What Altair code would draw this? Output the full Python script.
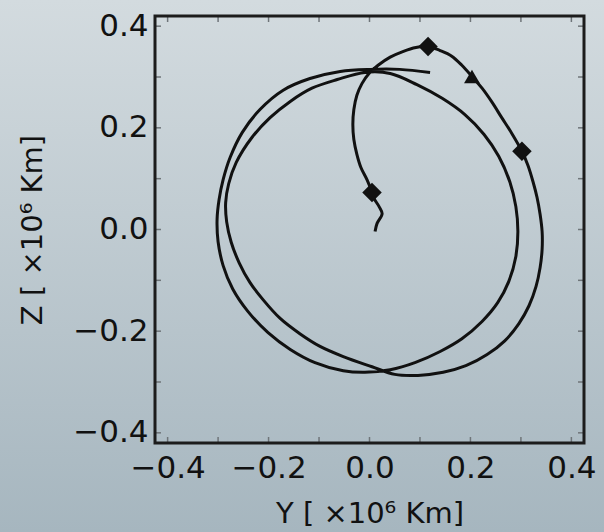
import altair as alt
import pandas as pd

# Trajectory in the Y-Z plane (units of 10^6 km), in time order
traj_y = [
    0.011, 0.015, 0.025, 0.019, 0.009, 0.005, -0.005, -0.017, -0.025, -0.031,
    -0.033, -0.031, -0.025, -0.015, -0.001, 0.017, 0.041, 0.066, 0.092, 0.116,
    0.140, 0.163, 0.183, 0.203, 0.223, 0.243, 0.262, 0.282, 0.302,
    0.314, 0.324, 0.332, 0.338, 0.342, 0.342, 0.338, 0.330, 0.316, 0.296,
    0.268, 0.233, 0.191, 0.146, 0.096, 0.050,
    0.005, -0.052, -0.098, -0.138, -0.177, -0.211, -0.237, -0.258, -0.274, -0.283,
    -0.285, -0.279, -0.264, -0.233, -0.197, -0.157, -0.114, -0.064, -0.009, 0.041,
    0.094, 0.144, 0.189, 0.227, 0.256, 0.278, 0.290, 0.294, 0.290, 0.276,
    0.254, 0.223, 0.183, 0.140, 0.090, 0.041, -0.009,
    -0.052, -0.108, -0.157, -0.201, -0.241, -0.271, -0.290, -0.300, -0.302, -0.298,
    -0.290, -0.276, -0.252, -0.217, -0.171, -0.118, -0.058, 0.001, 0.060, 0.120,
]
traj_z = [
    -0.004, 0.012, 0.031, 0.045, 0.061, 0.073, 0.098, 0.122, 0.148, 0.177,
    0.207, 0.236, 0.264, 0.287, 0.307, 0.323, 0.339, 0.350, 0.358, 0.360,
    0.352, 0.341, 0.323, 0.301, 0.278, 0.250, 0.220, 0.189, 0.154,
    0.126, 0.094, 0.063, 0.030, -0.004, -0.039, -0.075, -0.112, -0.150, -0.185,
    -0.219, -0.246, -0.268, -0.281, -0.287, -0.285,
    -0.270, -0.250, -0.230, -0.205, -0.175, -0.138, -0.104, -0.066, -0.025, 0.015,
    0.053, 0.090, 0.132, 0.181, 0.220, 0.252, 0.278, 0.295, 0.309, 0.307,
    0.285, 0.258, 0.226, 0.187, 0.144, 0.094, 0.045, -0.004, -0.053, -0.102,
    -0.144, -0.181, -0.215, -0.240, -0.262, -0.276, -0.281,
    -0.278, -0.262, -0.236, -0.203, -0.161, -0.117, -0.071, -0.024, 0.020, 0.059,
    0.098, 0.142, 0.191, 0.236, 0.274, 0.297, 0.311, 0.315, 0.315, 0.309,
]

# Event markers along the path
diamond_y = [0.005, 0.116, 0.302]
diamond_z = [0.073, 0.360, 0.154]
triangle_y = [0.203]
triangle_z = [0.301]

# Axis ticks and labels
minor_ticks = [-0.4, -0.3, -0.2, -0.1, 0.0, 0.1, 0.2, 0.3, 0.4]
major_ticks = [-0.4, -0.2, 0.0, 0.2, 0.4]

W, H = 429, 427
PAD = {"left": 155, "top": 16, "right": 20, "bottom": 89}
INK = "#111111"
FONT = "DejaVu Sans"

xs = alt.Scale(domain=[-0.425, 0.425], nice=False, zero=False)
ys = alt.Scale(domain=[-0.42, 0.42], nice=False, zero=False)
x_axis = alt.Axis(values=major_ticks, format=".1f", labelPadding=10, zindex=2,
                  title="Y [ ×10⁶ Km]", titlePadding=16)
y_axis = alt.Axis(values=major_ticks, format=".1f", labelPadding=7, zindex=2,
                  title="Z [ ×10⁶ Km]", titlePadding=25)


def xenc(field):
    return alt.X(field, type="quantitative", scale=xs, axis=x_axis)


def yenc(field):
    return alt.Y(field, type="quantitative", scale=ys, axis=y_axis)


path = pd.DataFrame({"i": range(len(traj_y)), "Y": traj_y, "Z": traj_z})
diamonds = pd.DataFrame({"Y": diamond_y, "Z": diamond_z})
triangles = pd.DataFrame({"Y": triangle_y, "Z": triangle_z})
ticks = pd.DataFrame({"t": minor_ticks})
one = pd.DataFrame({"k": [0]})

# Soft vertical gradient behind the whole figure
backdrop = alt.Chart(one).mark_rect(
    clip=False,
    color=alt.Gradient(
        gradient="linear",
        stops=[alt.GradientStop(color="#d3dbdf", offset=0),
               alt.GradientStop(color="#a6b6bf", offset=1)],
        x1=0, x2=0, y1=0, y2=1,
    ),
).encode(
    x=alt.value(-PAD["left"]), x2=alt.value(W + PAD["right"]),
    y=alt.value(-PAD["top"]), y2=alt.value(H + PAD["bottom"]),
)

orbit = alt.Chart(path).mark_line(
    color=INK, strokeWidth=3, interpolate="catmull-rom"
).encode(x=xenc("Y"), y=yenc("Z"), order="i:Q")

diamond_pts = alt.Chart(diamonds).mark_point(
    shape="diamond", filled=True, size=380, color=INK, opacity=1
).encode(x=xenc("Y"), y=yenc("Z"))

triangle_pts = alt.Chart(triangles).mark_point(
    shape="triangle-up", filled=True, size=250, color=INK, opacity=1
).encode(x=xenc("Y"), y=yenc("Z"))

# Inward ticks on all four sides
TL = 6
tick_style = dict(color="#6f7579", strokeWidth=1.5)
ticks_bottom = alt.Chart(ticks).mark_rule(**tick_style).encode(
    x=xenc("t"), y=alt.value(H - TL), y2=alt.value(H))
ticks_top = alt.Chart(ticks).mark_rule(**tick_style).encode(
    x=xenc("t"), y=alt.value(0), y2=alt.value(TL))
ticks_left = alt.Chart(ticks).mark_rule(**tick_style).encode(
    y=yenc("t"), x=alt.value(0), x2=alt.value(TL))
ticks_right = alt.Chart(ticks).mark_rule(**tick_style).encode(
    y=yenc("t"), x=alt.value(W - TL), x2=alt.value(W))

frame = alt.Chart(one).mark_rect(
    fillOpacity=0, stroke="#1c1c1c", strokeWidth=3, clip=False
).encode(x=alt.value(0), x2=alt.value(W), y=alt.value(0), y2=alt.value(H))

chart = alt.layer(
    backdrop, ticks_bottom, ticks_top, ticks_left, ticks_right,
    orbit, diamond_pts, triangle_pts, frame,
).properties(
    width=W, height=H,
    padding=PAD,
    autosize=alt.AutoSizeParams(type="none"),
    background="#bcc8ce",
).configure_view(
    stroke=None,
).configure_axis(
    grid=False, domain=False, ticks=False,
    labelFont=FONT, labelFontSize=31, labelColor=INK,
    titleFont=FONT, titleFontSize=29, titleFontWeight="normal", titleColor=INK,
)

chart.save("out.html", embed_options={"renderer": "svg", "actions": False})
